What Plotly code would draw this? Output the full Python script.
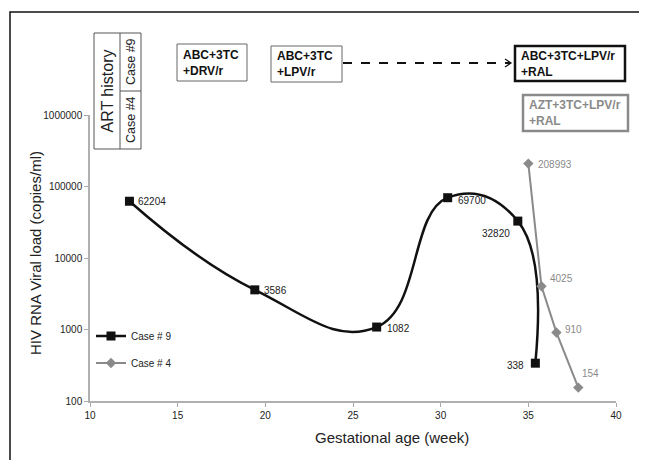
import math
import plotly.graph_objects as go

# ---- data ----
case9_weeks = [12.25, 19.4, 26.35, 30.4, 34.4, 35.4]
case9_load = [62204, 3586, 1082, 69700, 32820, 338]
case4_weeks = [35.0, 35.75, 36.6, 37.85]
case4_load = [208993, 4025, 910, 154]
x_ticks = [10, 15, 20, 25, 30, 35, 40]
y_ticks = [100, 1000, 10000, 100000, 1000000]
y_tick_labels = ["100", "1000", "10000", "100000", "1000000"]
regimens = ["ABC+3TC<br>+DRV/r", "ABC+3TC<br>+LPV/r", "ABC+3TC+LPV/r<br>+RAL", "AZT+3TC+LPV/r<br>+RAL"]

FONT = "Liberation Sans, Arial, sans-serif"
OFF = 8  # page body margin
W, H = 647 - OFF, 460 - OFF
L, R, T, B = 90, 616, 115, 401  # plot area in screen pixels


def px(x):
    return (x - L) / (R - L)


def py(y):
    return (B - y) / (B - T)


fig = go.Figure()
fig.add_trace(go.Scatter(
    x=case9_weeks, y=case9_load, mode="lines+markers", name="Case # 9",
    line=dict(color="#111111", width=2.5, shape="spline", smoothing=1.3),
    marker=dict(symbol="square", size=9, color="#111111"),
    legend="legend",
))
fig.add_trace(go.Scatter(
    x=case4_weeks, y=case4_load, mode="lines+markers", name="Case # 4",
    line=dict(color="#8a8a8a", width=2),
    marker=dict(symbol="diamond", size=8, color="#8a8a8a"),
    legend="legend2",
))

annotations = []
# data labels
off9 = [("left", 7, 0), ("left", 7, -1), ("left", 8, -1), ("left", 8, -3), ("right", -6, -12), ("right", -9, -2)]
for xv, yv, (anc, xs, ys) in zip(case9_weeks, case9_load, off9):
    annotations.append(dict(x=xv, y=math.log10(yv), xref="x", yref="y", text=str(yv), showarrow=False,
                            xanchor=anc, yanchor="middle", xshift=xs, yshift=ys,
                            font=dict(family=FONT, size=10, color="#222222")))
off4 = [("left", 8, -1), ("left", 7, 8), ("left", 7, 3), ("left", 2, 14)]
for xv, yv, (anc, xs, ys) in zip(case4_weeks, case4_load, off4):
    annotations.append(dict(x=xv, y=math.log10(yv), xref="x", yref="y", text=str(yv), showarrow=False,
                            xanchor=anc, yanchor="middle", xshift=xs, yshift=ys,
                            font=dict(family=FONT, size=10, color="#8a8a8a")))

# axis titles
annotations.append(dict(x=px(392), y=py(437), xref="paper", yref="paper", text="Gestational age (week)",
                        showarrow=False, xanchor="center", yanchor="middle",
                        font=dict(family=FONT, size=15, color="#222222")))
annotations.append(dict(x=px(35), y=py(253), xref="paper", yref="paper", text="HIV RNA Viral load (copies/ml)",
                        showarrow=False, xanchor="center", yanchor="middle", textangle=-90,
                        font=dict(family=FONT, size=15, color="#222222")))

# ART history box texts
annotations.append(dict(x=px(107.5), y=py(91), xref="paper", yref="paper", text="ART history", textangle=-90,
                        showarrow=False, xanchor="center", yanchor="middle",
                        font=dict(family=FONT, size=16, color="#222222")))
annotations.append(dict(x=px(131), y=py(62), xref="paper", yref="paper", text="Case #9", textangle=-90,
                        showarrow=False, xanchor="center", yanchor="middle",
                        font=dict(family=FONT, size=12.5, color="#222222")))
annotations.append(dict(x=px(131), y=py(120), xref="paper", yref="paper", text="Case #4", textangle=-90,
                        showarrow=False, xanchor="center", yanchor="middle",
                        font=dict(family=FONT, size=12.5, color="#222222")))

shapes = []
# outer frame
shapes.append(dict(type="rect", xref="paper", yref="paper", x0=px(10), x1=px(700), y0=py(12), y1=py(520),
                   line=dict(color="#111111", width=1.5)))
# ART history frame
shapes.append(dict(type="rect", xref="paper", yref="paper", x0=px(94), x1=px(141), y0=py(33), y1=py(149),
                   line=dict(color="#555555", width=1)))
shapes.append(dict(type="line", xref="paper", yref="paper", x0=px(120), x1=px(120), y0=py(33), y1=py(149),
                   line=dict(color="#555555", width=1)))
shapes.append(dict(type="line", xref="paper", yref="paper", x0=px(120), x1=px(141), y0=py(91), y1=py(91),
                   line=dict(color="#555555", width=1)))

# regimen boxes
boxes = [
    (177, 44, 247, 81, "#666666", 1, "#111111"),
    (271, 46, 342, 82, "#666666", 1, "#111111"),
    (515, 46, 625, 81, "#111111", 2.5, "#111111"),
    (523, 95, 628, 131, "#8a8a8a", 2.5, "#8a8a8a"),
]
for (x0, y0, x1, y1, lc, lw, tc), txt in zip(boxes, regimens):
    shapes.append(dict(type="rect", xref="paper", yref="paper", x0=px(x0), x1=px(x1), y0=py(y0), y1=py(y1),
                       line=dict(color=lc, width=lw), fillcolor="white"))
    annotations.append(dict(x=px(x0 + 4), y=py((y0 + y1) / 2), xref="paper", yref="paper", text="<b>" + txt + "</b>",
                            showarrow=False, xanchor="left", yanchor="middle", align="left",
                            font=dict(family=FONT, size=12, color=tc)))

# dashed arrow
shapes.append(dict(type="line", xref="paper", yref="paper", x0=px(343), x1=px(510), y0=py(63), y1=py(63),
                   line=dict(color="#111111", width=2, dash="dash")))
shapes.append(dict(type="path", xref="paper", yref="paper",
                   path=f"M {px(505)},{py(59)} L {px(511)},{py(63)} L {px(505)},{py(67)}",
                   line=dict(color="#111111", width=1.2)))

fig.update_layout(
    width=W, height=H,
    margin=dict(l=L - OFF, r=W - (R - OFF), t=T - OFF, b=H - (B - OFF), pad=0),
    paper_bgcolor="white", plot_bgcolor="white",
    font=dict(family=FONT, size=10, color="#222222"),
    showlegend=True,
    legend=dict(x=px(91), y=py(336), xanchor="left", yanchor="middle", bgcolor="rgba(0,0,0,0)",
                font=dict(family=FONT, size=10, color="#222222"), itemwidth=30),
    legend2=dict(x=px(91), y=py(363), xanchor="left", yanchor="middle", bgcolor="rgba(0,0,0,0)",
                 font=dict(family=FONT, size=10, color="#222222"), itemwidth=30),
    xaxis=dict(range=[10, 40], tickvals=x_ticks, ticks="outside", ticklen=4, tickcolor="#aaaaaa",
               showline=True, linecolor="#b0b0b0", linewidth=1.5, showgrid=False, zeroline=False,
               tickfont=dict(family=FONT, size=10, color="#222222")),
    yaxis=dict(type="log", range=[2, 6], tickvals=y_ticks, ticktext=y_tick_labels, ticks="outside", ticklen=4,
               tickcolor="#aaaaaa", showline=True, linecolor="#b0b0b0", linewidth=1.5, showgrid=False,
               zeroline=False, tickfont=dict(family=FONT, size=10, color="#222222")),
    shapes=shapes,
    annotations=annotations,
)

fig.write_html("out.html")
